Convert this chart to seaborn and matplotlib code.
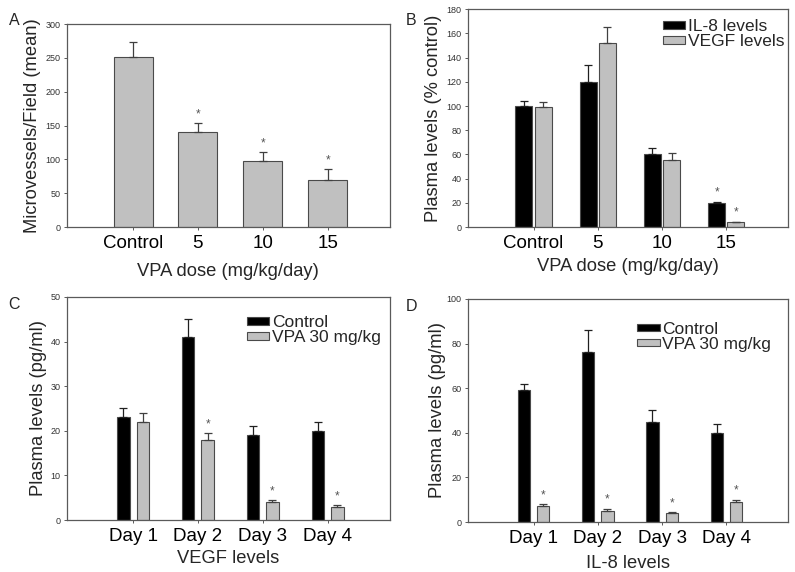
import pandas as pd
import seaborn as sns
import matplotlib.pyplot as plt
from matplotlib.patches import Patch

# Panel A: microvessel density by VPA dose
doses = ["Control", "5", "10", "15"]
microvessels = [252, 140, 98, 69]
microvessels_err = [22, 14, 13, 17]
microvessels_sig = [False, True, True, True]

# Panel B: plasma levels (% control) by VPA dose
b_series = ["IL-8 levels", "VEGF levels"]
il8_pct = [100, 120, 60, 20]
il8_pct_err = [4, 14, 5, 1]
il8_pct_sig = [False, False, False, True]
vegf_pct = [99, 152, 55, 4]
vegf_pct_err = [4, 13, 6, 0.6]
vegf_pct_sig = [False, False, False, True]

# Panels C and D: plasma levels per day
days = ["Day 1", "Day 2", "Day 3", "Day 4"]
treatments = ["Control", "VPA 30 mg/kg"]
vegf_ctrl = [23, 41, 19, 20]
vegf_ctrl_err = [2, 4, 2, 2]
vegf_vpa = [22, 18, 4, 3]
vegf_vpa_err = [2, 1.5, 0.5, 0.3]
vegf_vpa_sig = [False, True, True, True]
il8_ctrl = [59, 76, 45, 40]
il8_ctrl_err = [3, 10, 5, 4]
il8_vpa = [7, 5, 4, 9]
il8_vpa_err = [1, 1, 0.5, 1]
il8_vpa_sig = [True, True, True, True]

BLACK = "#000000"
GRAY = "#c0c0c0"
EDGE = "#4a4a4a"
SPINE = "#5a5a5a"

sns.set_style("ticks")
plt.rcParams["font.family"] = ["Liberation Sans", "DejaVu Sans"]


def long_table(cats, cat_name, series_names, values):
    rows = []
    for name, vals in zip(series_names, values):
        for c, v in zip(cats, vals):
            rows.append({cat_name: c, "group": name, "value": v})
    return pd.DataFrame(rows)


def add_errors(ax, container, errs, sig, color):
    xs = [p.get_x() + p.get_width() / 2 for p in container.patches]
    ys = [p.get_height() for p in container.patches]
    ax.errorbar(xs, ys, yerr=[[0] * len(errs), errs], fmt="none",
                ecolor=color, elinewidth=0.9, capsize=3, capthick=0.9, zorder=1)
    for x, y, e, s in zip(xs, ys, errs, sig):
        if s:
            ax.annotate("*", (x, y + e), xytext=(0, 2), textcoords="offset points",
                        ha="center", va="bottom", fontsize=8.5, color="#555555")


def style_axes(ax, ymax, ystep, xlabel, ylabel, ylabelpad, xlabelpad):
    ax.set_ylim(0, ymax)
    ax.set_yticks(range(0, ymax + 1, ystep))
    ax.set_xlim(-1.02, 3.96)
    for s in ax.spines.values():
        s.set_color(SPINE)
        s.set_linewidth(0.9)
        s.set_visible(True)
    ax.tick_params(axis="y", labelsize=6.5, length=2.5, width=0.7, colors=SPINE,
                   labelcolor="#333333", pad=2)
    ax.tick_params(axis="x", labelsize=13.5, length=2.5, width=0.7, colors=SPINE,
                   labelcolor="black", pad=3)
    ax.set_xlabel(xlabel, fontsize=13.2, labelpad=xlabelpad)
    ax.set_ylabel(ylabel, fontsize=13.2, labelpad=ylabelpad)


def add_legend(ax, labels, anchor):
    handles = [Patch(facecolor=c, edgecolor=EDGE, linewidth=0.8) for c in (BLACK, GRAY)]
    ax.legend(handles, labels, loc="upper left", bbox_to_anchor=anchor, frameon=False,
              fontsize=12.5, handlelength=1.3, handleheight=0.3, handletextpad=0.15,
              labelspacing=0.0, borderaxespad=0, borderpad=0)


fig = plt.figure(figsize=(7.95, 5.72), dpi=100)

# ---- A
axA = fig.add_axes([0.0843, 0.603, 0.406, 0.355])
dfA = pd.DataFrame({"dose": doses, "value": microvessels})
sns.barplot(data=dfA, x="dose", y="value", color=GRAY, edgecolor=EDGE, linewidth=0.8,
            width=0.6, saturation=1, ax=axA)
add_errors(axA, axA.containers[0], microvessels_err, microvessels_sig, "#404040")
style_axes(axA, 300, 50, "VPA dose (mg/kg/day)", "Microvessels/Field (mean)", 3.5, 8)

# ---- B
axB = fig.add_axes([0.5887, 0.603, 0.4025, 0.381])
dfB = long_table(doses, "dose", b_series, [il8_pct, vegf_pct])
sns.barplot(data=dfB, x="dose", y="value", hue="group", palette=[BLACK, GRAY],
            edgecolor=EDGE, linewidth=0.8, width=0.6, gap=0.12, saturation=1,
            legend=False, ax=axB)
add_errors(axB, axB.containers[0], il8_pct_err, il8_pct_sig, "#202020")
add_errors(axB, axB.containers[1], vegf_pct_err, vegf_pct_sig, "#404040")
style_axes(axB, 180, 20, "VPA dose (mg/kg/day)", "Plasma levels (% control)", 3.5, 4.5)
add_legend(axB, b_series, (0.609, 0.954))

# ---- C
axC = fig.add_axes([0.0843, 0.0909, 0.406, 0.390])
dfC = long_table(days, "day", treatments, [vegf_ctrl, vegf_vpa])
sns.barplot(data=dfC, x="day", y="value", hue="group", palette=[BLACK, GRAY],
            edgecolor=EDGE, linewidth=0.8, width=0.6, gap=0.36, saturation=1,
            legend=False, ax=axC)
add_errors(axC, axC.containers[0], vegf_ctrl_err, [False] * 4, "#202020")
add_errors(axC, axC.containers[1], vegf_vpa_err, vegf_vpa_sig, "#404040")
style_axes(axC, 50, 10, "VEGF levels", "Plasma levels (pg/ml)", 2.5, 4)
add_legend(axC, treatments, (0.557, 0.917))

# ---- D
axD = fig.add_axes([0.5887, 0.0874, 0.4025, 0.390])
dfD = long_table(days, "day", treatments, [il8_ctrl, il8_vpa])
sns.barplot(data=dfD, x="day", y="value", hue="group", palette=[BLACK, GRAY],
            edgecolor=EDGE, linewidth=0.8, width=0.6, gap=0.36, saturation=1,
            legend=False, ax=axD)
add_errors(axD, axD.containers[0], il8_ctrl_err, [False] * 4, "#202020")
add_errors(axD, axD.containers[1], il8_vpa_err, il8_vpa_sig, "#404040")
style_axes(axD, 100, 20, "IL-8 levels", "Plasma levels (pg/ml)", 0.5, 6)
add_legend(axD, treatments, (0.528, 0.897))

for letter, x, y in [("A", 0.011, 0.978), ("B", 0.51, 0.978), ("C", 0.011, 0.48), ("D", 0.51, 0.478)]:
    fig.text(x, y, letter, fontsize=11.5, ha="left", va="top")

fig.savefig("out.png", dpi=100)
